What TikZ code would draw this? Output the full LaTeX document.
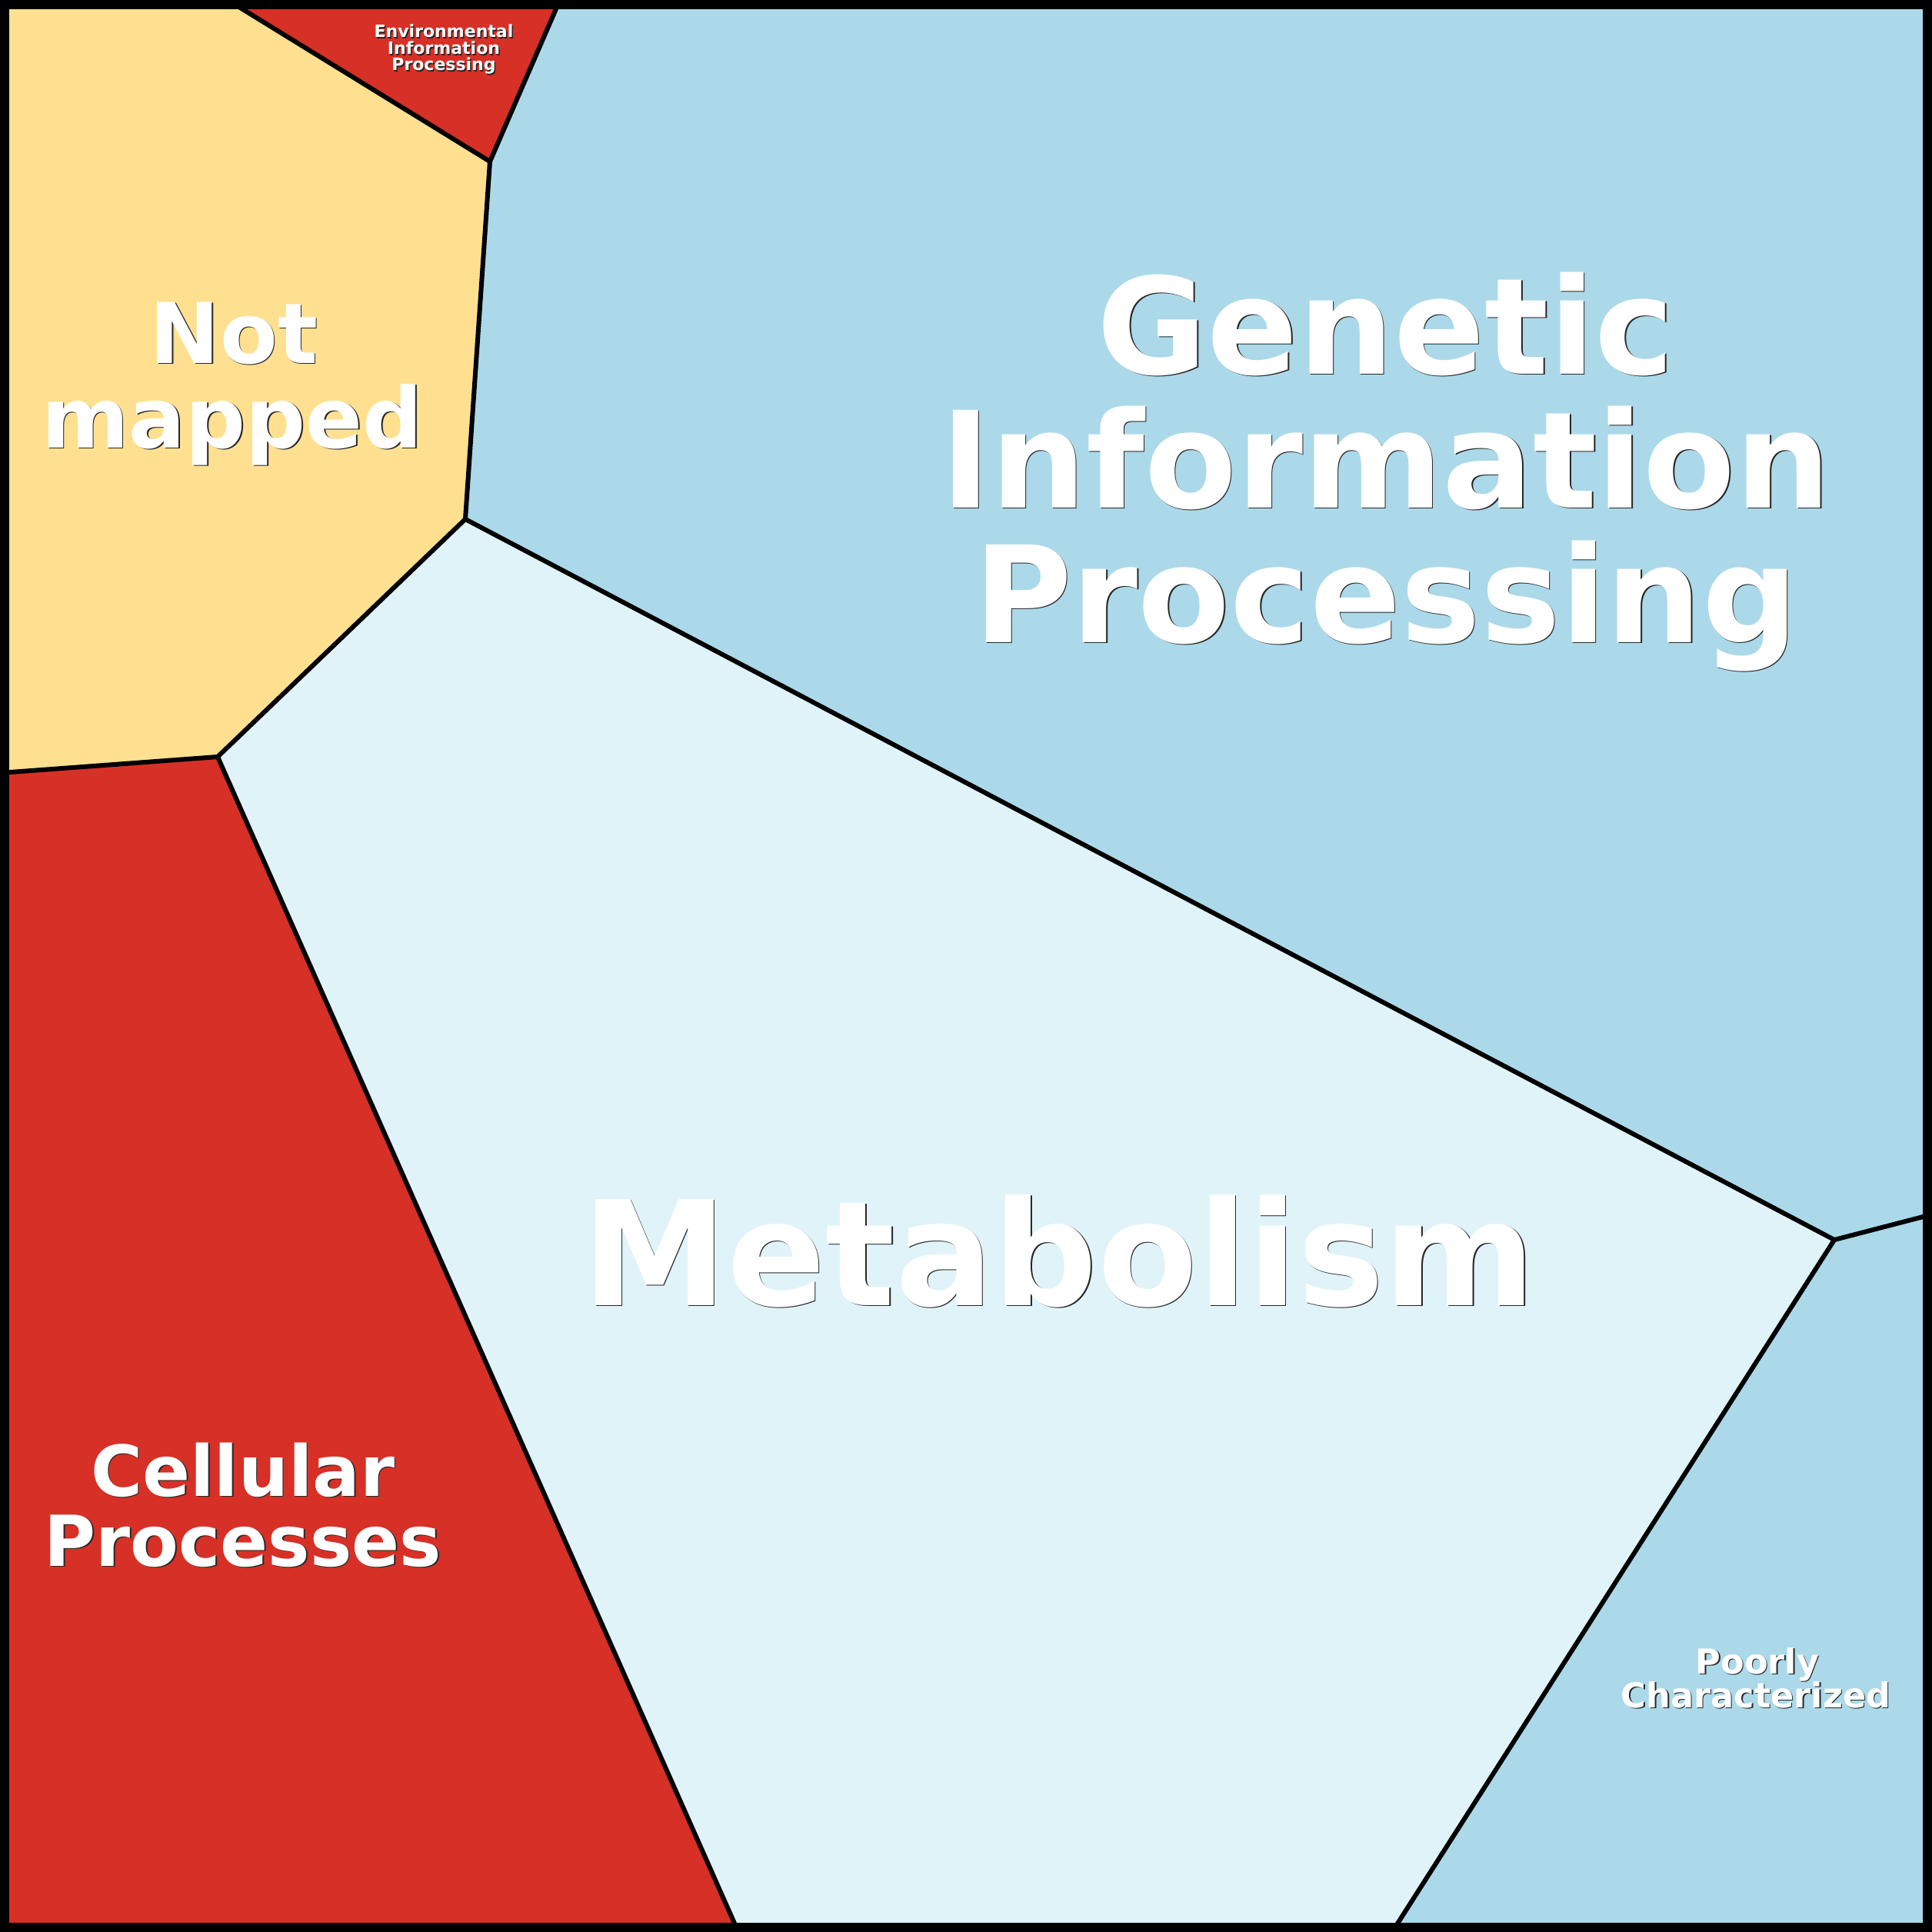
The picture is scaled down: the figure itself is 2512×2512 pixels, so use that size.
\documentclass[tikz,border=0pt]{standalone}
\usepackage{fontspec}
\setmainfont{DejaVu Sans}
\definecolor{cred}{HTML}{D73027}
\definecolor{cyellow}{HTML}{FEE090}
\definecolor{cblue}{HTML}{ABD9E9}
\definecolor{cpale}{HTML}{E0F3F8}
\tikzset{
  edge/.style={line width=0.06cm, line join=round, line cap=round, draw=black},
  frame/.style={line width=0.12cm, draw=black},
  lab/.style={inner sep=0pt, anchor=base, text=white},
  labshadow/.style={inner sep=0pt, anchor=base, text=black!85},
}
\newcommand\maplabel[5]{%
  \node[labshadow, font=\bfseries\fontsize{#4}{#4}\selectfont] (#1s) at ([shift={(1.5,1.5)}]#2,#3) {#5};
  \node[lab, font=\bfseries\fontsize{#4}{#4}\selectfont] (#1) at (#2,#3) {#5};
}
\begin{document}
\begin{tikzpicture}[x=0.01cm, y=-0.01cm]
\useasboundingbox (0,0) rectangle (2512,2512);
% vertices
\coordinate (TL) at (0,0);
\coordinate (TR) at (2512,0);
\coordinate (BL) at (0,2512);
\coordinate (BR) at (2512,2512);
\coordinate (A) at (296,0);
\coordinate (C) at (728,0);
\coordinate (B) at (637,210);
\coordinate (D) at (605,675);
\coordinate (E) at (283,984);
\coordinate (F) at (0,1005);
\coordinate (I) at (960,2512);
\coordinate (G) at (2385,1612);
\coordinate (H) at (2512,1579);
\coordinate (J) at (1810,2512);
% regions
\fill[cyellow] (TL) -- (A) -- (B) -- (D) -- (E) -- (F) -- cycle;
\fill[cred] (A) -- (C) -- (B) -- cycle;
\fill[cblue] (C) -- (TR) -- (H) -- (G) -- (D) -- (B) -- cycle;
\fill[cpale] (D) -- (G) -- (J) -- (I) -- (E) -- cycle;
\fill[cred] (F) -- (E) -- (I) -- (BL) -- cycle;
\fill[cblue] (G) -- (H) -- (BR) -- (J) -- cycle;
% boundaries
\draw[edge] (A) -- (B) -- (C);
\draw[edge] (B) -- (D) -- (E) -- (F);
\draw[edge] (E) -- (I);
\draw[edge] (D) -- (G) -- (H);
\draw[edge] (G) -- (J);
% labels
\maplabel{env1}{577}{49}{6.26}{Environmental}
\maplabel{env2}{577}{71}{6.26}{Information}
\maplabel{env3}{577}{92}{6.26}{Processing}
\maplabel{nm1}{304}{472}{31.0}{Not}
\maplabel{nm2}{302}{582}{31.0}{mapped}
\maplabel{gen1}{1802}{486}{49.6}{Genetic}
\maplabel{gen2}{1802}{660}{49.6}{Information}
\maplabel{gen3}{1802}{835}{49.6}{Processing}
\maplabel{met}{1377}{1697}{53.8}{Metabolism}
\maplabel{cel1}{316}{1945}{26.0}{Cellular}
\maplabel{cel2}{316}{2036}{26.0}{Processes}
\maplabel{poor1}{2285}{2176}{12.7}{Poorly}
\maplabel{poor2}{2283}{2220}{12.7}{Characterized}
% frame
\draw[frame] (6,6) rectangle (2506,2506);
\end{tikzpicture}
\end{document}
